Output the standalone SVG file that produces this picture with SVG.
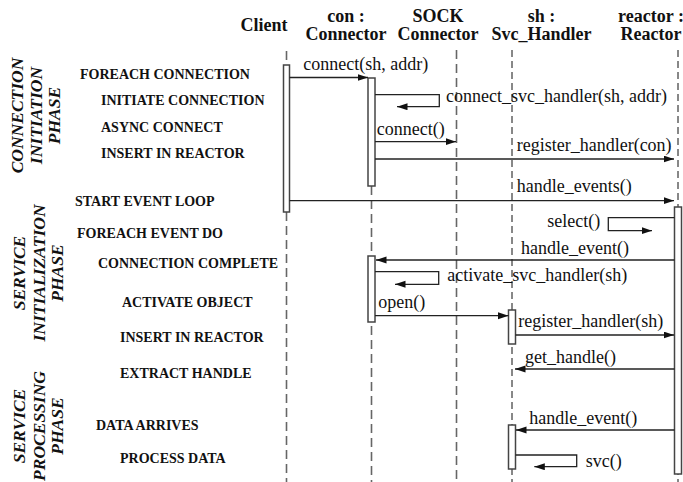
<svg xmlns="http://www.w3.org/2000/svg" width="683" height="482" viewBox="0 0 683 482">
  <defs>
    <marker id="arrow" markerUnits="userSpaceOnUse" markerWidth="11" markerHeight="8" refX="10.5" refY="3.5" orient="auto">
      <path d="M0,0 L10.5,3.5 L0,7 Z" fill="#111"/>
    </marker>
    <style>
      .hdr { font-family: "Liberation Serif", "Times New Roman", serif; font-weight: bold; font-size: 18px; fill: #111; text-anchor: middle; }
      .step { font-family: "Liberation Serif", "Times New Roman", serif; font-weight: bold; font-size: 14px; fill: #111; }
      .phase { font-family: "Liberation Serif", "Times New Roman", serif; font-weight: bold; font-style: italic; font-size: 17.5px; fill: #111; text-anchor: middle; }
      .msg { font-family: "Liberation Serif", "Times New Roman", serif; font-size: 18px; fill: #111; }
      .life { stroke: #666; stroke-width: 1.6; stroke-dasharray: 9 5; fill: none; }
      .life-thin { stroke: #111; stroke-width: 1; stroke-dasharray: 7 4; fill: none; }
      .act { fill: #fff; stroke: #444; stroke-width: 1.5; }
      .call { fill: none; stroke: #222; stroke-width: 1.3; marker-end: url(#arrow); }
    </style>
  </defs>
  <rect width="683" height="482" fill="#fff"/>

  <!-- phase captions, rotated -->
  <g id="phase-connection-initiation">
    <text class="phase" transform="translate(23,115.5) rotate(-90)">CONNECTION</text>
    <text class="phase" transform="translate(42,115.5) rotate(-90)">INITIATION</text>
    <text class="phase" transform="translate(60,115.5) rotate(-90)">PHASE</text>
  </g>
  <g id="phase-service-initialization">
    <text class="phase" transform="translate(25,273) rotate(-90)">SERVICE</text>
    <text class="phase" transform="translate(44.5,273) rotate(-90)">INITIALIZATION</text>
    <text class="phase" transform="translate(63,273) rotate(-90)">PHASE</text>
  </g>
  <g id="phase-service-processing">
    <text class="phase" transform="translate(25,426) rotate(-90)">SERVICE</text>
    <text class="phase" transform="translate(44.5,426) rotate(-90)">PROCESSING</text>
    <text class="phase" transform="translate(63,426) rotate(-90)">PHASE</text>
  </g>

  <!-- step captions -->
  <g id="steps">
    <text class="step" x="80" y="79">FOREACH CONNECTION</text>
    <text class="step" x="101" y="105">INITIATE CONNECTION</text>
    <text class="step" x="101" y="131.5">ASYNC CONNECT</text>
    <text class="step" x="101" y="158">INSERT IN REACTOR</text>
    <text class="step" x="75" y="205.5">START EVENT LOOP</text>
    <text class="step" x="77" y="237.5">FOREACH EVENT DO</text>
    <text class="step" x="98" y="268">CONNECTION COMPLETE</text>
    <text class="step" x="122" y="306.5">ACTIVATE OBJECT</text>
    <text class="step" x="120" y="342">INSERT IN REACTOR</text>
    <text class="step" x="120" y="377.5">EXTRACT HANDLE</text>
    <text class="step" x="96" y="430">DATA ARRIVES</text>
    <text class="step" x="120" y="462.5">PROCESS DATA</text>
  </g>

  <!-- participants -->
  <g id="client">
    <text class="hdr" x="264" y="31">Client</text>
    <line class="life" x1="286.5" y1="51" x2="286.5" y2="65"/>
    <line class="life" x1="286.5" y1="212" x2="286.5" y2="482"/>
    <rect class="act" x="283.5" y="65" width="6" height="147"/>
  </g>
  <g id="con-connector">
    <text class="hdr" x="346" y="21.5">con :</text>
    <text class="hdr" x="346" y="40">Connector</text>
    <line class="life" x1="371.5" y1="186" x2="371.5" y2="482"/>
    <rect class="act" x="368" y="78" width="7" height="108"/>
    <rect class="act" x="368" y="256" width="7" height="66"/>
  </g>
  <g id="sock-connector">
    <text class="hdr" x="438" y="21.5">SOCK</text>
    <text class="hdr" x="438" y="40">Connector</text>
    <line class="life" x1="456.5" y1="50" x2="456.5" y2="482"/>
  </g>
  <g id="sh-svc-handler">
    <text class="hdr" x="541.5" y="21.5">sh :</text>
    <text class="hdr" x="541.5" y="40">Svc_Handler</text>
    <line class="life-thin" x1="512" y1="50" x2="512" y2="482"/>
    <rect class="act" x="508.5" y="310" width="7" height="34"/>
    <rect class="act" x="508.5" y="425" width="7" height="44"/>
  </g>
  <g id="reactor">
    <text class="hdr" x="651" y="21.5">reactor :</text>
    <text class="hdr" x="651" y="40">Reactor</text>
    <line class="life-thin" x1="678" y1="50" x2="678" y2="482"/>
    <rect class="act" x="674.5" y="207" width="7" height="267"/>
  </g>

  <!-- messages -->
  <g id="connectors">
    <line class="call" x1="289.5" y1="77.5" x2="368" y2="77.5"/>
    <polyline class="call" points="375,94.7 439.3,94.7 439.3,106.7 397,106.7"/>
    <line class="call" x1="375" y1="141.7" x2="456" y2="141.7"/>
    <line class="call" x1="375" y1="159" x2="674" y2="159"/>
    <line class="call" x1="289.5" y1="200.7" x2="674" y2="200.7"/>
    <polyline class="call" points="674.5,217.7 608.3,217.7 608.3,230.7 652,230.7"/>
    <line class="call" x1="674.5" y1="260" x2="376" y2="260"/>
    <polyline class="call" points="375,271.7 438.7,271.7 438.7,284.3 395,284.3"/>
    <line class="call" x1="375" y1="315.7" x2="508.5" y2="315.7"/>
    <line class="call" x1="515.5" y1="335" x2="674" y2="335"/>
    <line class="call" x1="674.5" y1="369" x2="515" y2="369"/>
    <line class="call" x1="674.5" y1="430" x2="516" y2="430"/>
    <polyline class="call" points="515.5,455 576.7,455 576.7,466.7 534.3,466.7"/>
  </g>

  <g id="message-labels">
    <text class="msg" x="303.3" y="69.5">connect(sh, addr)</text>
    <text class="msg" x="446" y="102">connect_svc_handler(sh, addr)</text>
    <text class="msg" x="376.7" y="135">connect()</text>
    <text class="msg" x="516.7" y="151">register_handler(con)</text>
    <text class="msg" x="516.7" y="191.7">handle_events()</text>
    <text class="msg" x="547.3" y="226.7">select()</text>
    <text class="msg" x="521" y="254">handle_event()</text>
    <text class="msg" x="447.3" y="280.7">activate_svc_handler(sh)</text>
    <text class="msg" x="378.3" y="308.3">open()</text>
    <text class="msg" x="518.3" y="327.3">register_handler(sh)</text>
    <text class="msg" x="525" y="362.7">get_handle()</text>
    <text class="msg" x="529.3" y="424">handle_event()</text>
    <text class="msg" x="585.7" y="466.7">svc()</text>
  </g>
</svg>
